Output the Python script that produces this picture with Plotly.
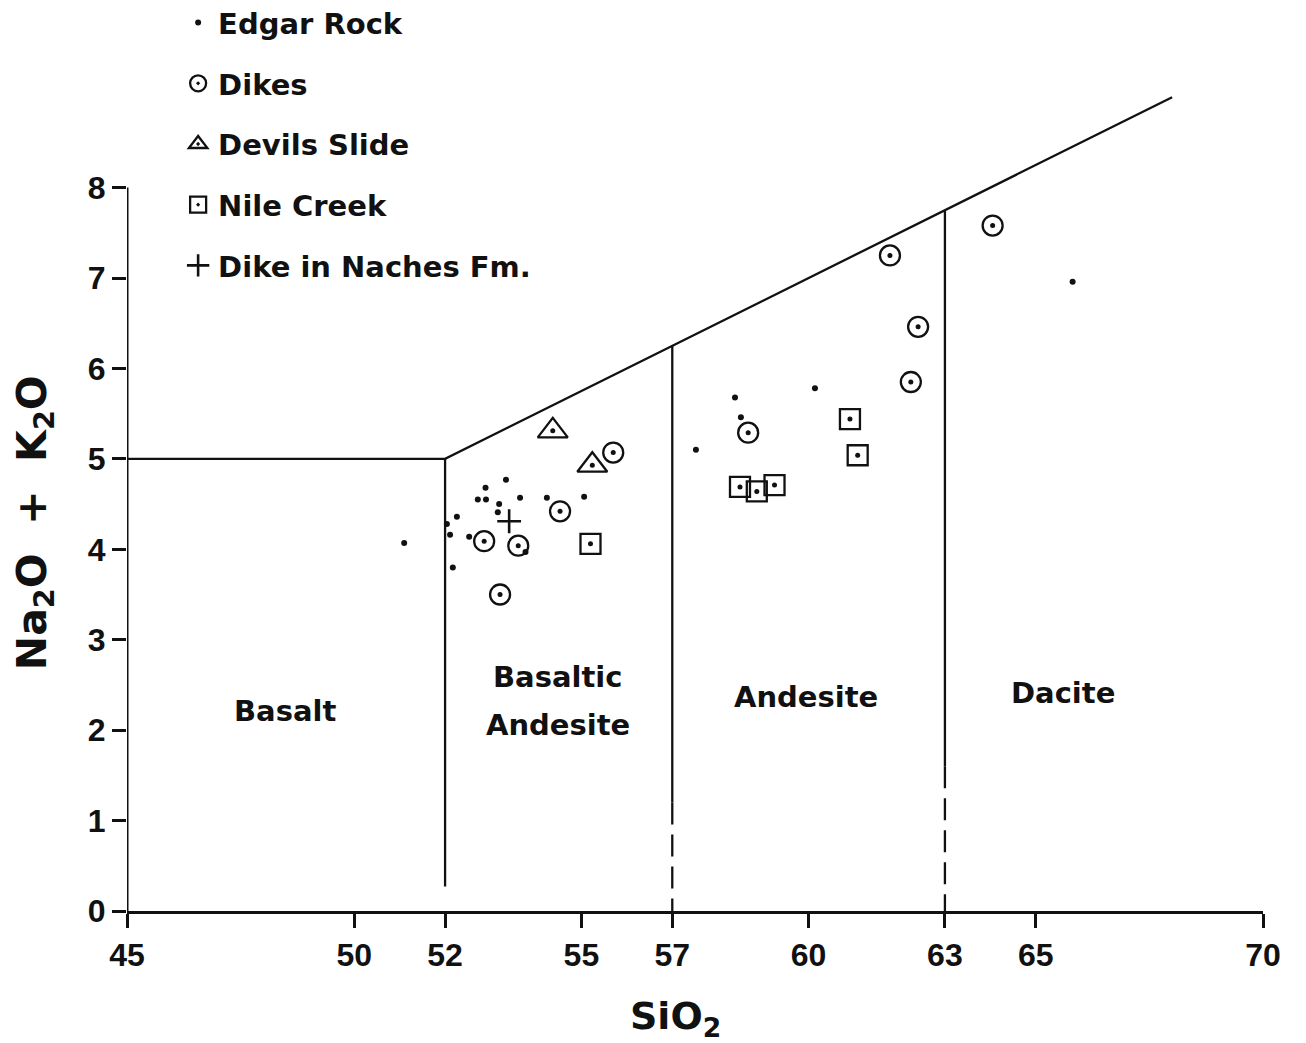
import plotly.graph_objects as go

# ---- sample data: SiO2 (wt%) vs Na2O + K2O (wt%) ----
edgar_sio2 = [51.10, 52.04, 52.26, 52.11, 52.17, 52.53, 52.72, 52.90, 52.89, 53.34,
              53.19, 53.16, 53.65, 54.24, 55.06, 53.77, 58.38, 58.51, 57.52, 60.14, 65.81]
edgar_alk = [4.07, 4.28, 4.36, 4.16, 3.80, 4.14, 4.55, 4.55, 4.68, 4.77,
             4.50, 4.41, 4.57, 4.57, 4.58, 3.97, 5.68, 5.46, 5.10, 5.78, 6.96]

dikes_sio2 = [52.86, 53.61, 54.53, 55.70, 53.21, 58.67, 61.79, 62.41, 62.25, 64.05]
dikes_alk = [4.09, 4.04, 4.42, 5.07, 3.50, 5.29, 7.25, 6.46, 5.85, 7.58]

devils_sio2 = [54.37, 55.24]
devils_alk = [5.31, 4.93]

nile_sio2 = [55.20, 60.91, 61.08, 58.49, 58.86, 59.25]
nile_alk = [4.06, 5.44, 5.04, 4.69, 4.64, 4.71]

naches_sio2 = [53.41]
naches_alk = [4.31]

# ---- classification field boundaries ----
upper_sio2 = [45, 52, 68]
upper_alk = [5, 5, 9]
div52_sio2 = [52, 52]
div52_alk = [5, 0.27]
div57_solid_sio2 = [57, 57]
div57_solid_alk = [6.25, 1.2]
div57_dash_sio2 = [57, 57]
div57_dash_alk = [1.2, 0]
div63_solid_sio2 = [63, 63]
div63_solid_alk = [7.75, 1.6]
div63_dash_sio2 = [63, 63]
div63_dash_alk = [1.6, 0]

field_names = ["Basalt", "Basaltic", "Andesite", "Andesite", "Dacite"]
field_sio2 = [48.48, 54.48, 54.48, 59.95, 65.6]
field_alk = [2.21, 2.59, 2.06, 2.37, 2.41]

x_ticks = [45, 50, 52, 55, 57, 60, 63, 65, 70]
y_ticks = [0, 1, 2, 3, 4, 5, 6, 7, 8]

FONT = "Liberation Sans"
HEAVY = "DejaVu Sans"
INK = "#111111"

fig = go.Figure()

def boundary(xs, ys, dash="solid", width=2.3):
    fig.add_trace(go.Scatter(x=xs, y=ys, mode="lines", showlegend=False,
                             hoverinfo="skip",
                             line=dict(color=INK, width=width, dash=dash)))

boundary(upper_sio2, upper_alk)
boundary(div52_sio2, div52_alk)
boundary(div57_solid_sio2, div57_solid_alk)
boundary(div57_dash_sio2, div57_dash_alk, dash="22px,10px")
boundary(div63_solid_sio2, div63_solid_alk)
boundary(div63_dash_sio2, div63_dash_alk, dash="22px,10px")

# y axis line drawn only over the labelled 0-8 span
boundary([45, 45], [0, 8], width=3)

fig.add_trace(go.Scatter(
    x=edgar_sio2, y=edgar_alk, mode="markers", name="Edgar Rock",
    legendgroup="a",
    marker=dict(symbol="circle", size=6, color=INK)))
fig.add_trace(go.Scatter(
    x=dikes_sio2, y=dikes_alk, mode="markers", name="Dikes",
    legendgroup="b",
    marker=dict(symbol="circle-open-dot", size=20, color=INK,
                line=dict(width=2.3, color=INK))))
fig.add_trace(go.Scatter(
    x=devils_sio2, y=devils_alk, mode="markers", name="Devils Slide",
    legendgroup="c",
    marker=dict(symbol="triangle-up-open-dot", size=26, color=INK,
                line=dict(width=2.3, color=INK))))
fig.add_trace(go.Scatter(
    x=nile_sio2, y=nile_alk, mode="markers", name="Nile Creek",
    legendgroup="d",
    marker=dict(symbol="square-open-dot", size=20, color=INK,
                line=dict(width=2.3, color=INK))))
fig.add_trace(go.Scatter(
    x=naches_sio2, y=naches_alk, mode="markers", name="Dike in Naches Fm.",
    legendgroup="e",
    marker=dict(symbol="cross-thin-open", size=17, color=INK,
                line=dict(width=2.6, color=INK))))

# solid centre dots inside the open symbols
for xs, ys in [(dikes_sio2, dikes_alk), (devils_sio2, devils_alk),
               (nile_sio2, nile_alk)]:
    fig.add_trace(go.Scatter(x=xs, y=ys, mode="markers", showlegend=False,
                             hoverinfo="skip",
                             marker=dict(symbol="circle", size=5, color=INK)))

for name, sx, sy in zip(field_names, field_sio2, field_alk):
    fig.add_annotation(x=sx, y=sy, text=f"<b>{name}</b>", showarrow=False,
                       font=dict(family=HEAVY, size=29, color=INK))

# axis titles
fig.add_annotation(x=-0.081, y=4.3, xref="paper", yref="y",
                   text="<b>Na<sub>2</sub>O  +  K<sub>2</sub>O</b>",
                   textangle=-90, showarrow=False, xanchor="center",
                   font=dict(family=HEAVY, size=41, color=INK))
fig.add_annotation(x=57.06, y=-0.127, xref="x", yref="paper",
                   text="<b>SiO<sub>2</sub></b>", showarrow=False,
                   yanchor="middle",
                   font=dict(family=HEAVY, size=38, color=INK))

fig.update_layout(
    width=1306, height=1043,
    margin=dict(l=127, r=43, t=61, b=132, autoexpand=False),
    paper_bgcolor="white", plot_bgcolor="white",
    showlegend=True,
    legend=dict(x=0.045, y=1.075, xanchor="left", yanchor="top",
                bgcolor="rgba(0,0,0,0)",
                font=dict(family=HEAVY, size=29, color=INK, weight="bold"),
                tracegroupgap=20, itemwidth=30),
    xaxis=dict(range=[45, 70], tickvals=x_ticks,
               ticktext=[f"<b>{v}</b>" for v in x_ticks],
               ticks="outside", ticklen=14, tickwidth=2.5, tickcolor=INK,
               showline=True, linewidth=3, linecolor=INK,
               showgrid=False, zeroline=False,
               tickfont=dict(family=FONT, size=32, color=INK)),
    yaxis=dict(range=[0, 9.4], tickvals=y_ticks,
               ticktext=[f"<b>{v}</b>" for v in y_ticks],
               ticks="outside", ticklen=14, tickwidth=2.5, tickcolor=INK,
               showline=False, showgrid=False, zeroline=False,
               tickfont=dict(family=FONT, size=32, color=INK)),
)

fig.write_html("out.html")
